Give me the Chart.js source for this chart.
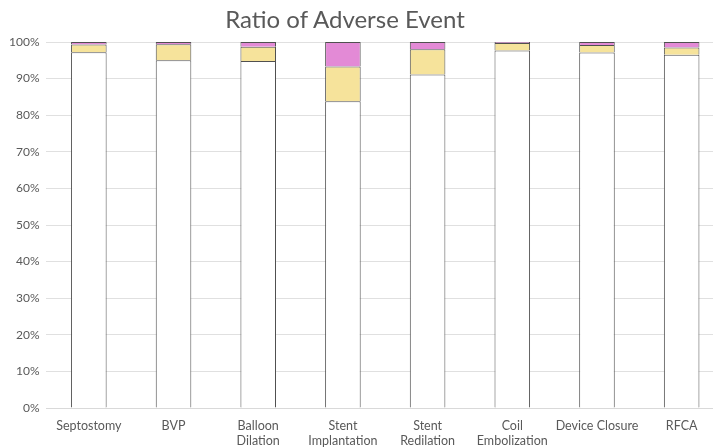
<!DOCTYPE html>
<html>
<head>
<meta charset="utf-8">
<script src="https://cdn.jsdelivr.net/npm/chart.js@4"></script>
<style>
  html, body { margin: 0; padding: 0; background: #fff; overflow: hidden; }
  #wrap { position: relative; width: 724px; height: 450px; }
  #chart-title {
    position: absolute; left: 195px; top: 4px; width: 300px;
    text-align: center; font: 24px/30px Lato, "Open Sans", sans-serif; color: #595959;
  }
</style>
</head>
<body>
<div id="wrap">
  <div id="chart-title">Ratio of Adverse Event</div>
  <canvas id="ratio-chart"></canvas>
</div>
<script>
const procedures = [
    'Septostomy', 'BVP', ['Balloon', 'Dilation'], ['Stent', 'Implantation'],
    ['Stent', 'Redilation'], ['Coil', 'Embolization'], 'Device Closure', 'RFCA'
];
// percent of cases per procedure
const noEvent    = [97.2, 95.0, 94.8, 83.8, 91.1, 97.7, 97.1, 96.5];
const minorEvent = [2.1, 4.4, 3.9, 9.5, 6.9, 2.0, 2.1, 2.0];
const majorEvent = [0.7, 0.6, 1.3, 6.7, 2.0, 0.3, 0.8, 1.5];

const textColor = '#595959';
const fontFamily = 'Lato, "Open Sans", sans-serif';

function loadChart() {
    var canvas = document.getElementById('ratio-chart');

    // no bottom edge: the segment below draws the dividing line
    const barStyle = {
        borderColor: '#505050',
        borderWidth: { top: 1, left: 1, right: 1, bottom: 0 },
        borderSkipped: false
    };

    new Chart(canvas, {
        type: 'bar',
        data: {
            labels: procedures,
            datasets: [
                Object.assign({ label: 'None', data: noEvent, backgroundColor: '#ffffff' }, barStyle),
                Object.assign({ label: 'Minor', data: minorEvent, backgroundColor: '#f6e39b' }, barStyle),
                Object.assign({ label: 'Major', data: majorEvent, backgroundColor: '#e38ad6' }, barStyle)
            ]
        },
        options: {
            responsive: true,
            maintainAspectRatio: false,
            animation: false,
            layout: { padding: { left: 2, right: 0, top: 42, bottom: 0 } },
            datasets: { bar: { barPercentage: 0.42, categoryPercentage: 1 } },
            plugins: {
                legend: { display: false },
                tooltip: { enabled: false },
                title: { display: false }
            },
            scales: {
                x: {
                    stacked: true,
                    grid: { display: false },
                    border: { display: true, color: '#d9d9d9' },
                    ticks: {
                        color: textColor,
                        font: { family: fontFamily, size: 12.5 },
                        maxRotation: 0,
                        autoSkip: false,
                        padding: 2
                    }
                },
                y: {
                    stacked: true,
                    min: 0,
                    max: 100,
                    grid: { color: '#e0e0e0', drawTicks: false },
                    border: { display: false },
                    ticks: {
                        stepSize: 10,
                        color: textColor,
                        font: { family: fontFamily, size: 12 },
                        padding: 7,
                        callback: v => v + '%'
                    }
                }
            }
        }
    });
}

loadChart();
</script>
</body>
</html>
